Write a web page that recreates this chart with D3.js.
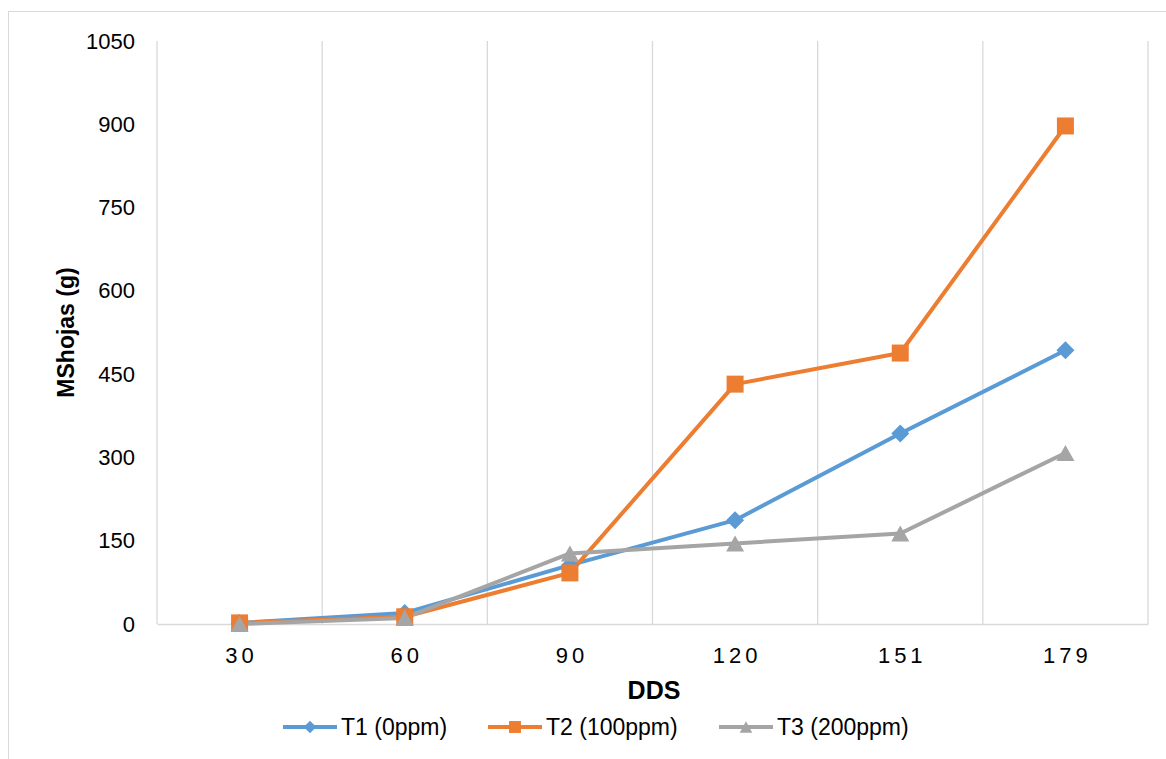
<!DOCTYPE html>
<html>
<head>
<meta charset="utf-8">
<script src="https://cdn.jsdelivr.net/npm/d3@7"></script>
<style>
  body { margin: 0; background: #fff; }
  svg text { font-family: "Liberation Sans", Arial, sans-serif; fill: #000; }
</style>
</head>
<body>
<div id="chart"></div>
<script>
// data
var categories = ["30", "60", "90", "120", "151", "179"];
var t1 = [2, 20, 106, 187, 343, 493];
var t2 = [2, 13, 92, 432, 488, 897];
var t3 = [0, 11, 127, 145, 163, 308];
var yTicks = [0, 150, 300, 450, 600, 750, 900, 1050];

// marker shapes, centred on the point (r = half width)
function diamond(r) { return "M0," + (-r) + "L" + r + ",0L0," + r + "L" + (-r) + ",0Z"; }
function square(r) { return "M" + (-r) + "," + (-r) + "H" + r + "V" + r + "H" + (-r) + "Z"; }
function triangle(r) { var h = r * 0.9; return "M0," + (-h) + "L" + r + "," + h + "L" + (-r) + "," + h + "Z"; }

var series = [
  { name: "T1 (0ppm)",   values: t1, color: "#5B9BD5", marker: diamond,  r: 9 },
  { name: "T2 (100ppm)", values: t2, color: "#ED7D31", marker: square,   r: 8.5 },
  { name: "T3 (200ppm)", values: t3, color: "#A5A5A5", marker: triangle, r: 9 }
];

var W = 1166, H = 759;
var margin = { top: 41, right: 18, bottom: 135, left: 157 },
  width = W - margin.left - margin.right,
  height = H - margin.top - margin.bottom;

var svg = d3.select("#chart").append("svg")
  .attr("width", W)
  .attr("height", H);

// outer frame (only top / left edges fall inside the picture)
svg.append("rect")
  .attr("x", 8.5).attr("y", 11.5)
  .attr("width", 1180).attr("height", 780)
  .attr("fill", "none")
  .attr("stroke", "#d9d9d9");

var g = svg.append("g")
  .attr("transform", "translate(" + margin.left + "," + margin.top + ")");

var x = d3.scaleBand().domain(categories).range([0, width]);
var y = d3.scaleLinear().domain([0, 1050]).range([height, 0]);

// vertical gridlines on category boundaries
var bounds = categories.map(function(c) { return x(c); }).concat([width]);
g.selectAll(".vgrid")
  .data(bounds)
  .enter().append("line")
  .attr("x1", function(d) { return d; })
  .attr("x2", function(d) { return d; })
  .attr("y1", 0)
  .attr("y2", height)
  .attr("stroke", "#d9d9d9")
  .attr("stroke-width", 1.3);

// x axis
var xAxis = g.append("g")
  .attr("transform", "translate(0," + height + ")")
  .call(d3.axisBottom(x).tickSize(0).tickPadding(23));
xAxis.select(".domain").attr("stroke", "#d9d9d9").attr("stroke-width", 1.3);
xAxis.selectAll("text")
  .attr("dx", "2px")
  .style("font-size", "22px")
  .style("letter-spacing", "4px")
  .style("font-family", "Liberation Sans, Arial, sans-serif");

// y axis
var yAxis = g.append("g")
  .call(d3.axisLeft(y).tickValues(yTicks).tickFormat(d3.format("d")).tickSize(0).tickPadding(22));
yAxis.select(".domain").remove();
yAxis.selectAll("text")
  .style("font-size", "22px")
  .style("font-family", "Liberation Sans, Arial, sans-serif");

// axis titles
svg.append("text")
  .attr("transform", "translate(74," + (margin.top + height / 2) + ") rotate(-90)")
  .attr("text-anchor", "middle")
  .style("font-size", "23px")
  .style("font-weight", "bold")
  .text("MShojas (g)");

svg.append("text")
  .attr("x", 654)
  .attr("y", 699)
  .attr("text-anchor", "middle")
  .style("font-size", "25px")
  .style("font-weight", "bold")
  .text("DDS");

// lines + markers
var line = d3.line()
  .x(function(d, i) { return x(categories[i]) + x.bandwidth() / 2; })
  .y(function(d) { return y(d); });

series.forEach(function(s) {
  g.append("path")
    .datum(s.values)
    .attr("fill", "none")
    .attr("stroke", s.color)
    .attr("stroke-width", 4)
    .attr("stroke-linejoin", "round")
    .attr("d", line);
});

series.forEach(function(s) {
  g.selectAll(null)
    .data(s.values)
    .enter().append("path")
    .attr("d", s.marker(s.r))
    .attr("transform", function(d, i) {
      return "translate(" + (x(categories[i]) + x.bandwidth() / 2) + "," + y(d) + ")";
    })
    .attr("fill", s.color);
});

// legend
var legendX = [283, 488, 719];
var legend = svg.selectAll(".legend")
  .data(series)
  .enter().append("g")
  .attr("transform", function(d, i) { return "translate(" + legendX[i] + ",727)"; });

legend.append("line")
  .attr("x1", 0).attr("x2", 54)
  .attr("stroke", function(d) { return d.color; })
  .attr("stroke-width", 4);
legend.append("path")
  .attr("d", function(d) { return d.marker(d.r * 0.7); })
  .attr("transform", "translate(27,0)")
  .attr("fill", function(d) { return d.color; });
legend.append("text")
  .attr("x", 58)
  .attr("dy", "0.36em")
  .style("font-size", "23px")
  .text(function(d) { return d.name; });
</script>
</body>
</html>
